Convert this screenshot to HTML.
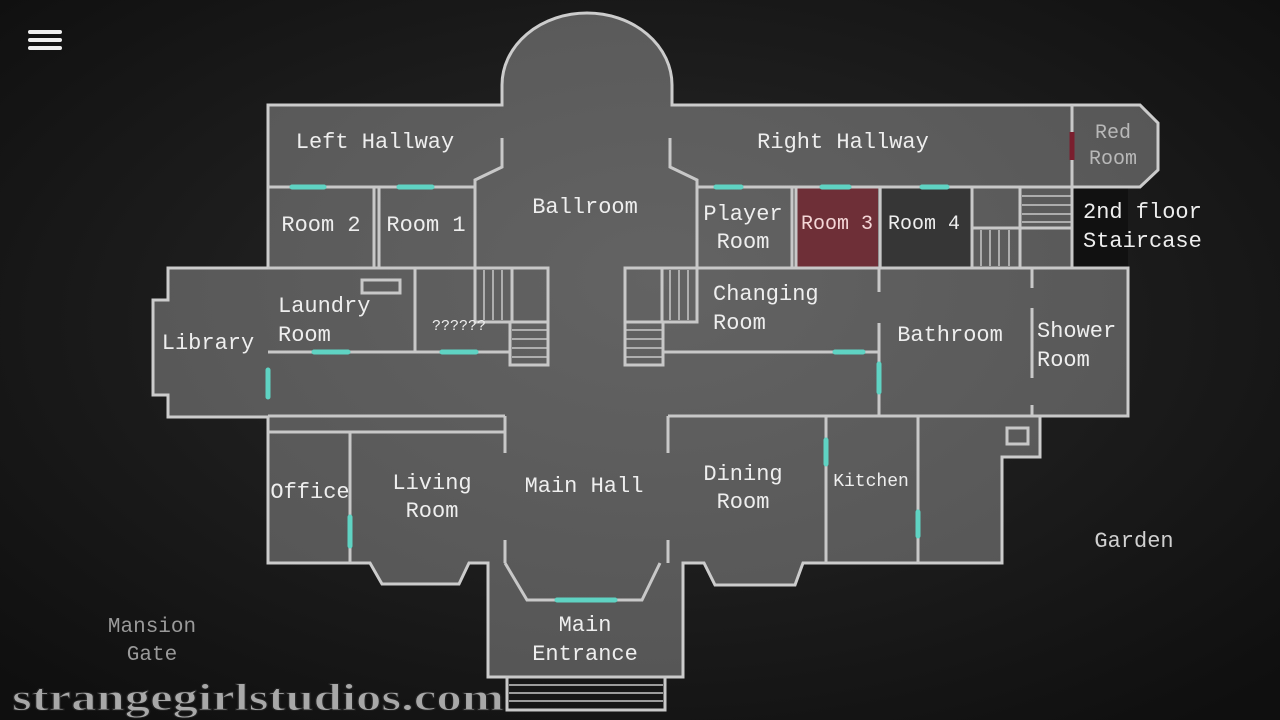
<!DOCTYPE html>
<html><head><meta charset="utf-8"><style>
html,body{margin:0;padding:0;width:1280px;height:720px;overflow:hidden;background:#141414}
svg{display:block}
text{font-family:"Liberation Mono",monospace;fill:#eee;font-size:22px;text-anchor:middle}
</style></head><body>
<svg width="1280" height="720" viewBox="0 0 1280 720">
<defs>
<radialGradient id="bg" cx="0.5" cy="0.45" r="0.7"><stop offset="0" stop-color="#2a2a2a"/><stop offset="1" stop-color="#0f0f0f"/></radialGradient>
<radialGradient id="fl" cx="0.5" cy="0.4" r="0.7"><stop offset="0" stop-color="#636363"/><stop offset="1" stop-color="#545454"/></radialGradient>
</defs>
<rect width="1280" height="720" fill="url(#bg)"/>
<g stroke="#eee" stroke-width="4" stroke-linecap="round"><line x1="30" y1="32" x2="60" y2="32"/><line x1="30" y1="40" x2="60" y2="40"/><line x1="30" y1="48" x2="60" y2="48"/></g>
<rect x="1072" y="187" width="56" height="81" fill="#111"/>
<path d="M268,105 L502,105 L502,85 A85,72 0 0 1 672,85 L672,105 L1140,105 L1158,123 L1158,170 L1140,187 L1072,187 L1072,268 L1128,268 L1128,416 L1040,416 L1040,457 L1002,457 L1002,563 L803,563 L795,585 L715,585 L704,563 L683,563 L683,677 L488,677 L488,563 L469,563 L459,584 L382,584 L370,563 L268,563 L268,417 L168,417 L168,395 L153,395 L153,300 L168,300 L168,268 L268,268 Z" fill="url(#fl)" stroke="#ccc" stroke-width="3"/>
<rect x="797" y="188" width="81" height="79" fill="#6e2f37"/>
<rect x="882" y="188" width="89" height="79" fill="#363636"/>
<g stroke="#c8c8c8" stroke-width="3" fill="none">
<path d="M268,187 L475,187"/>
<path d="M502,138 L502,167 L475,180 L475,268"/>
<path d="M670,138 L670,167 L697,180 L697,268"/>
<path d="M374,187 L374,268 M379,187 L379,268"/>
<path d="M268,268 L548,268"/>
<path d="M415,268 L415,352 M268,352 L510,352"/>
<rect x="475" y="268" width="37" height="54"/><rect x="512" y="268" width="36" height="54"/><rect x="510" y="322" width="38" height="43"/>
<rect x="625" y="268" width="37" height="54"/><rect x="662" y="268" width="35" height="54"/><rect x="625" y="322" width="38" height="43"/>
<path d="M697,187 L1072,187 M697,268 L1128,268"/>
<path d="M792,187 L792,268 M796,187 L796,268 M880,187 L880,268 M972,187 L972,268"/>
<rect x="972" y="187" width="48" height="41"/><rect x="1020" y="228" width="52" height="40"/>
<path d="M1072,105 L1072,187 M1072,187 L1072,268"/>
<path d="M662,352 L878,352 M879,268 L879,292 M879,323 L879,416 M1032,268 L1032,288 M1032,308 L1032,378 M1032,405 L1032,416"/>
<path d="M268,416 L505,416 M268,432 L505,432 M505,416 L505,453 M505,540 L505,563 M668,416 L1128,416 M668,416 L668,453 M668,540 L668,563"/>
<path d="M350,432 L350,563 M826,416 L826,563 M918,416 L918,563"/>
<path d="M505,563 L527,600 L642,600 L660,563"/>
<rect x="1007" y="428" width="21" height="16"/>
<rect x="362" y="280" width="38" height="13"/>
<rect x="507" y="677" width="158" height="33"/>
</g>
<g stroke="#c8c8c8" stroke-width="1.5">
<path d="M484,270V320M493,270V320M502,270V320M512,330H548M512,339H548M512,348H548M512,357H548"/>
<path d="M670,270V320M679,270V320M688,270V320M625,330H663M625,339H663M625,348H663M625,357H663"/>
<path d="M981,230V266M990,230V266M999,230V266M1009,230V266M1022,196H1072M1022,205H1072M1022,214H1072M1022,222H1072"/>
<path d="M509,685H663M509,693H663M509,701H663"/>
</g>
<g stroke="#5fd3c3" stroke-width="5" stroke-linecap="round">
<path d="M292,187H324M399,187H432M716,187H741M822,187H849M922,187H947M314,352H348M442,352H476M835,352H863M268,370V397M879,364V392M350,517V546M826,440V464M918,512V536M557,600H615"/>
</g>
<path d="M1072,132V160" stroke="#7a1f2e" stroke-width="5"/>
<g>
<text x="375" y="148">Left Hallway</text>
<text x="843" y="148">Right Hallway</text>
<text x="1113" y="138" style="fill:#b8b8b8;font-size:20px">Red</text>
<text x="1113" y="164" style="fill:#b8b8b8;font-size:20px">Room</text>
<text x="585" y="213">Ballroom</text>
<text x="321" y="231">Room 2</text>
<text x="426" y="231">Room 1</text>
<text x="743" y="220">Player</text>
<text x="743" y="248">Room</text>
<text x="837" y="229" style="fill:#f3d6d6;font-size:20px">Room 3</text>
<text x="924" y="229" style="font-size:20px">Room 4</text>
<text x="1083" y="218" style="text-anchor:start">2nd floor</text>
<text x="1083" y="247" style="text-anchor:start">Staircase</text>
<text x="278" y="312" style="text-anchor:start">Laundry</text>
<text x="278" y="341" style="text-anchor:start">Room</text>
<text x="459" y="330" style="font-size:15px">??????</text>
<text x="208" y="349">Library</text>
<text x="713" y="300" style="text-anchor:start">Changing</text>
<text x="713" y="329" style="text-anchor:start">Room</text>
<text x="950" y="341">Bathroom</text>
<text x="1037" y="337" style="text-anchor:start">Shower</text>
<text x="1037" y="366" style="text-anchor:start">Room</text>
<text x="310" y="498">Office</text>
<text x="432" y="489">Living</text>
<text x="432" y="517">Room</text>
<text x="584" y="492">Main Hall</text>
<text x="743" y="480">Dining</text>
<text x="743" y="508">Room</text>
<text x="871" y="486" style="font-size:18px">Kitchen</text>
<text x="1134" y="547" style="fill:#d0d0d0">Garden</text>
<text x="152" y="632" style="fill:#9a9a9a;font-size:21px">Mansion</text>
<text x="152" y="660" style="fill:#9a9a9a;font-size:21px">Gate</text>
<text x="585" y="631">Main</text>
<text x="585" y="660">Entrance</text>
<text x="12" y="710" textLength="492" lengthAdjust="spacingAndGlyphs" style="text-anchor:start;font-family:'Liberation Serif',serif;font-weight:bold;font-size:38px;fill:#a8a8a8;stroke:#222;stroke-width:1">strangegirlstudios.com</text>
</g>
</svg>
</body></html>
